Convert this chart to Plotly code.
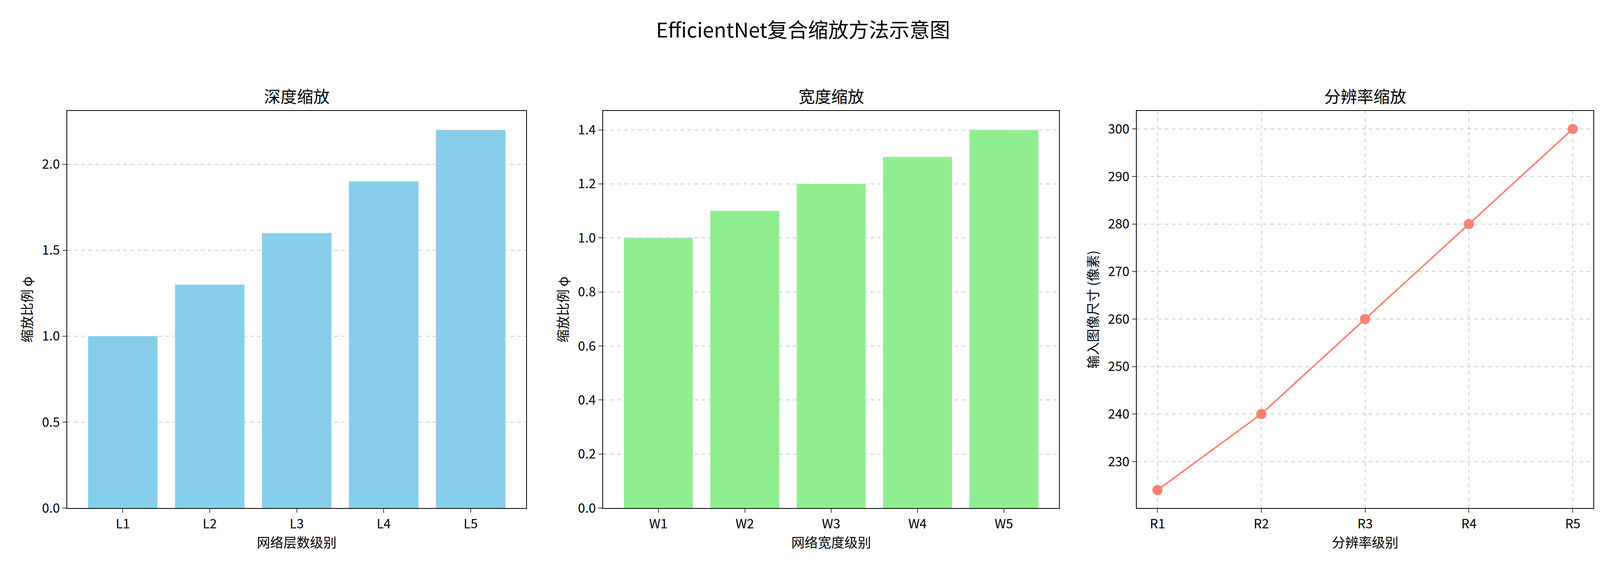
import plotly.graph_objects as go
from plotly.subplots import make_subplots

depth_levels = ["L1", "L2", "L3", "L4", "L5"]
depth_values = [1.0, 1.3, 1.6, 1.9, 2.2]
width_levels = ["W1", "W2", "W3", "W4", "W5"]
width_values = [1.0, 1.1, 1.2, 1.3, 1.4]
res_levels = ["R1", "R2", "R3", "R4", "R5"]
res_values = [224, 240, 260, 280, 300]

FONT = "Noto Sans CJK SC"

fig = make_subplots(rows=1, cols=3, subplot_titles=("深度缩放", "宽度缩放", "分辨率缩放"))

fig.add_trace(go.Bar(x=depth_levels, y=depth_values, marker_color="#87CEEB", width=0.8), 1, 1)
fig.add_trace(go.Bar(x=width_levels, y=width_values, marker_color="#90EE90", width=0.8), 1, 2)
fig.add_trace(go.Scatter(x=res_levels, y=res_values, mode="lines+markers",
                         line=dict(color="#FA8072", width=4),
                         marker=dict(color="#FA8072", size=26)), 1, 3)

domains = [[0.040, 0.327], [0.375, 0.660], [0.7085, 0.994]]
axis_common = dict(showline=True, mirror=True, linecolor="black", linewidth=2,
                   ticks="outside", ticklen=10, tickwidth=2, tickfont=dict(size=33, color="black"),
                   title_font=dict(size=34, color="black"), zeroline=False)
for i, d in enumerate(domains, start=1):
    fig.update_xaxes(domain=d, row=1, col=i, **axis_common)
    fig.update_yaxes(domain=[0.11, 0.81], row=1, col=i, **axis_common)

grid = dict(showgrid=True, gridcolor="#c8c8c8", griddash="dash", gridwidth=2)
fig.update_xaxes(showgrid=False, range=[-0.64, 4.64], title_text="网络层数级别", row=1, col=1)
fig.update_xaxes(showgrid=False, range=[-0.64, 4.64], title_text="网络宽度级别", row=1, col=2)
fig.update_xaxes(range=[-0.2, 4.2], title_text="分辨率级别", row=1, col=3, **grid)
fig.update_yaxes(range=[0, 2.31], tickvals=[0, 0.5, 1.0, 1.5, 2.0], tickformat=".1f",
                 title_text="缩放比例 φ", row=1, col=1, **grid)
fig.update_yaxes(range=[0, 1.47], dtick=0.2, tickformat=".1f",
                 title_text="缩放比例 φ", row=1, col=2, **grid)
fig.update_yaxes(range=[220.2, 303.8], dtick=10, title_text="输入图像尺寸 (像素)",
                 row=1, col=3, **grid)

for i, ann in enumerate(fig.layout.annotations):
    ann.font = dict(size=42, color="black", family=FONT)
    ann.x = sum(domains[i]) / 2
    ann.y = 0.815
    ann.yanchor = "bottom"

fig.update_layout(
    autosize=True, showlegend=False,
    font=dict(family=FONT, color="black"),
    paper_bgcolor="white", plot_bgcolor="white",
    margin=dict(l=0, r=0, t=0, b=0),
    title=dict(text="EfficientNet复合缩放方法示意图", x=0.5, xanchor="center",
               y=0.965, yanchor="top", font=dict(size=52, family=FONT, color="black")),
)
fig.write_html("out.html", default_width="100vw", default_height="100vh",
               config={"responsive": True})
